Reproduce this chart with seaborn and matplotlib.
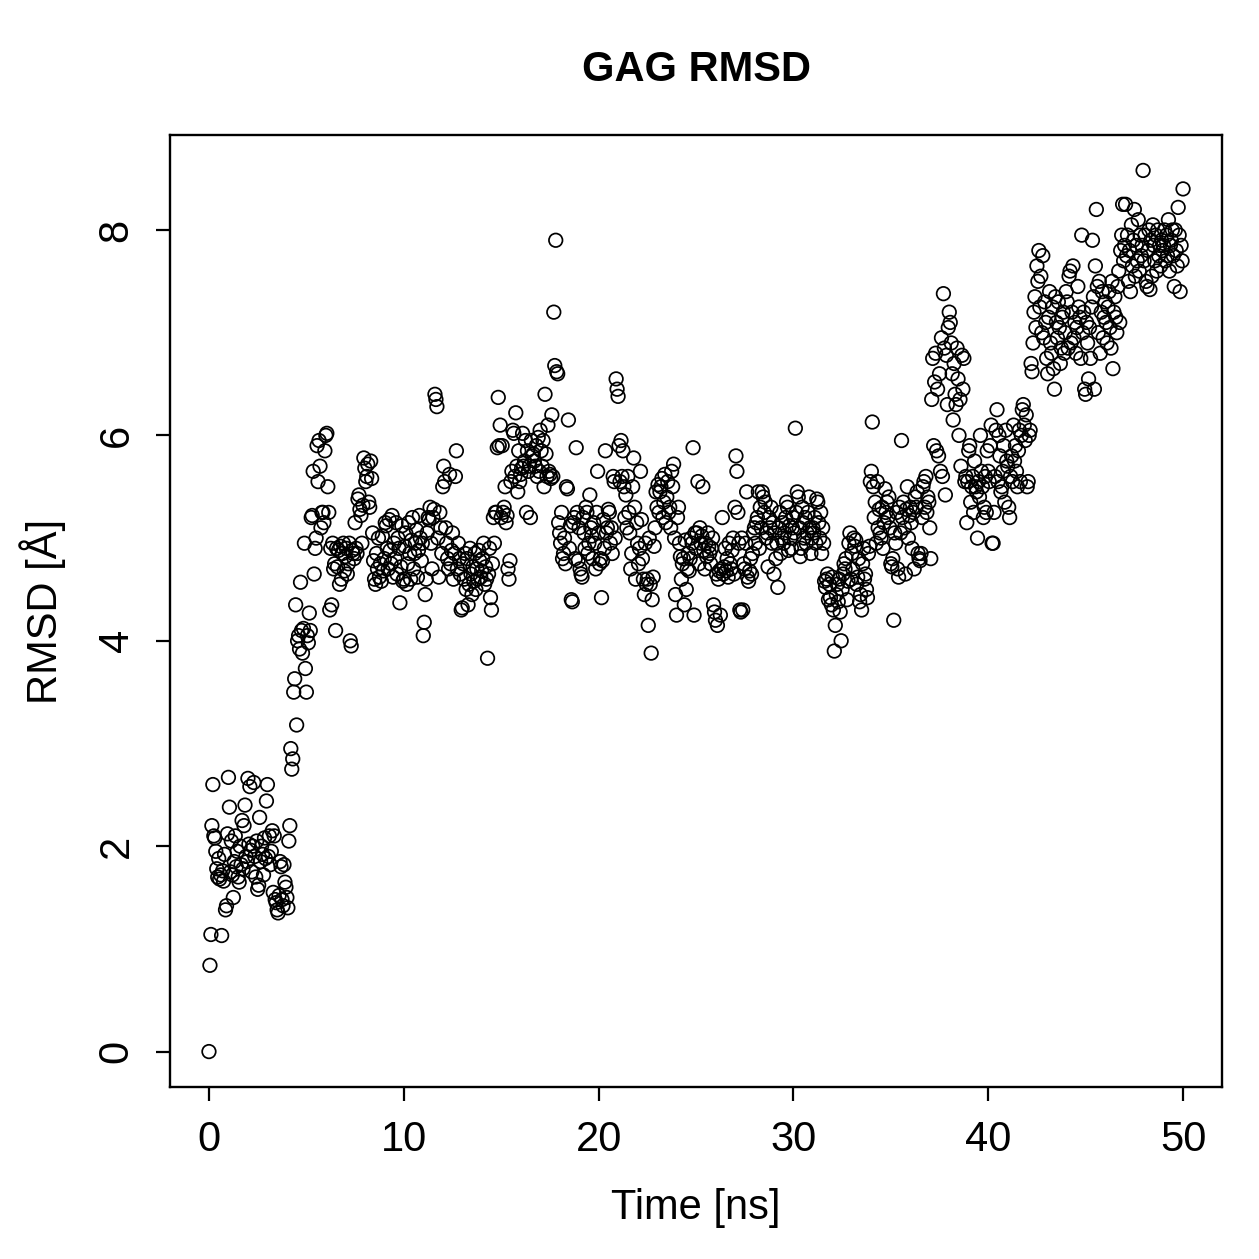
import numpy as np
import pandas as pd
import matplotlib
matplotlib.use("Agg")
import matplotlib.pyplot as plt
import seaborn as sns

# RMSD trace of the GAG, one frame every 0.05 ns (rows = 1 ns each)
FRAME_STEP_NS = 0.05
rmsd_rows = [
    [0.00, 0.84, 1.14, 2.20, 2.60, 2.10, 2.08, 1.95, 1.78, 1.70, 1.88, 1.68, 1.72, 1.13, 1.76, 1.66, 1.92, 1.38, 1.42, 2.12],
    [2.67, 2.38, 1.75, 2.05, 1.72, 1.50, 1.85, 2.10, 1.80, 1.95, 1.70, 1.65, 2.00, 1.82, 2.25, 1.78, 2.20, 2.40, 1.90, 1.85],
    [2.66, 2.02, 2.58, 1.96, 1.75, 2.00, 2.62, 1.90, 1.70, 2.05, 1.58, 1.62, 2.28, 1.85, 2.00, 1.92, 1.72, 2.08, 1.88, 2.44],
    [2.60, 1.90, 2.10, 1.82, 1.95, 2.15, 1.55, 2.10, 1.48, 1.45, 1.38, 1.35, 1.52, 1.85, 1.80, 1.48, 1.42, 1.82, 1.65, 1.60],
    [1.50, 1.40, 2.05, 2.20, 2.95, 2.75, 2.85, 3.50, 3.63, 4.35, 3.18, 4.00, 4.05, 3.92, 4.57, 4.10, 3.88, 4.12, 4.95, 3.73],
    [3.50, 4.05, 3.98, 4.27, 4.10, 5.20, 5.22, 5.65, 4.65, 4.90, 5.00, 5.90, 5.55, 5.95, 5.70, 5.10, 5.25, 5.25, 5.15, 5.85],
    [6.00, 6.02, 5.50, 5.25, 4.30, 4.90, 4.35, 4.95, 4.70, 4.75, 4.10, 4.90, 4.72, 4.88, 4.55, 4.92, 4.60, 4.85, 4.95, 4.68],
    [4.82, 4.90, 4.65, 4.75, 4.95, 4.00, 3.95, 4.88, 4.85, 4.80, 5.15, 4.90, 4.85, 5.38, 5.42, 5.28, 5.22, 4.95, 5.32, 5.78],
    [5.68, 5.55, 5.60, 5.72, 5.35, 5.30, 5.75, 5.58, 5.05, 4.78, 4.60, 4.55, 4.85, 4.70, 5.00, 4.62, 4.75, 4.58, 5.02, 4.68],
    [4.80, 5.15, 5.12, 4.90, 4.70, 5.18, 4.88, 4.75, 5.22, 4.62, 4.95, 4.80, 5.15, 4.65, 5.00, 4.90, 4.37, 4.72, 5.12, 4.58],
    [4.60, 4.92, 5.05, 4.55, 4.75, 5.15, 4.85, 4.60, 4.98, 5.20, 4.70, 4.85, 4.95, 5.08, 4.62, 4.88, 5.22, 5.00, 4.78, 4.95],
    [4.05, 4.18, 4.45, 4.60, 5.05, 5.20, 5.18, 5.30, 4.95, 4.70, 5.20, 5.28, 6.40, 6.35, 6.28, 5.00, 4.62, 5.25, 5.10, 4.85],
    [5.50, 5.70, 5.55, 5.10, 4.95, 4.80, 4.70, 5.62, 4.75, 4.88, 5.05, 4.60, 4.85, 5.60, 5.85, 4.70, 4.95, 4.80, 4.65, 4.30],
    [4.32, 4.75, 4.60, 4.85, 4.50, 4.80, 4.35, 4.55, 4.90, 4.65, 4.45, 4.72, 4.58, 4.85, 4.50, 4.70, 4.60, 4.88, 4.78, 4.62],
    [4.68, 4.80, 4.95, 4.55, 4.72, 4.60, 3.83, 4.65, 4.90, 4.42, 4.30, 4.75, 5.20, 4.95, 5.25, 5.25, 5.88, 6.37, 5.90, 6.10],
    [5.20, 5.90, 5.25, 5.30, 5.50, 5.15, 5.22, 4.70, 4.60, 4.78, 5.55, 5.65, 6.05, 6.02, 5.60, 6.22, 5.70, 5.45, 5.85, 5.55],
    [5.62, 5.68, 6.02, 5.70, 5.75, 5.95, 5.25, 5.85, 5.65, 5.70, 5.20, 5.95, 5.80, 5.82, 5.75, 5.70, 5.90, 5.60, 5.98, 5.65],
    [6.05, 5.85, 5.70, 5.95, 5.50, 6.40, 5.82, 5.60, 6.10, 5.65, 5.62, 5.58, 6.20, 5.60, 7.20, 6.68, 7.90, 6.62, 6.60, 5.15],
    [5.05, 4.95, 5.25, 4.80, 4.85, 5.00, 4.75, 5.50, 5.48, 6.15, 4.90, 5.12, 4.40, 4.38, 5.15, 5.20, 4.80, 5.88, 5.25, 4.78],
    [5.10, 4.70, 4.65, 4.62, 5.20, 5.05, 4.90, 5.30, 5.25, 4.85, 4.95, 5.42, 5.10, 5.02, 4.80, 5.15, 4.95, 4.70, 5.25, 5.65],
    [5.05, 4.75, 4.80, 4.42, 4.78, 5.18, 4.90, 5.85, 5.05, 5.10, 5.28, 5.25, 4.95, 5.10, 4.85, 5.60, 5.55, 5.00, 6.55, 6.45],
    [6.38, 5.90, 5.55, 5.95, 5.60, 5.85, 5.50, 5.20, 5.42, 5.10, 5.60, 5.25, 5.05, 4.70, 4.85, 5.50, 5.78, 5.30, 4.60, 5.15],
    [4.95, 4.75, 4.90, 5.65, 5.18, 4.80, 4.60, 4.45, 4.95, 4.55, 4.60, 4.15, 5.00, 4.55, 3.88, 4.40, 4.62, 4.92, 5.10, 5.45],
    [5.30, 5.52, 5.25, 5.45, 5.50, 5.58, 5.20, 5.35, 5.62, 5.15, 5.40, 5.55, 5.25, 5.30, 5.10, 5.65, 5.50, 5.72, 5.00, 4.45],
    [4.25, 5.20, 5.30, 4.95, 4.82, 4.60, 4.75, 4.80, 4.35, 4.98, 4.50, 4.70, 4.85, 4.68, 4.80, 5.00, 4.95, 5.88, 4.25, 5.05],
    [4.90, 5.05, 5.55, 4.75, 5.10, 4.95, 5.02, 5.50, 4.88, 4.70, 4.95, 4.82, 5.05, 4.92, 4.85, 4.75, 4.90, 5.00, 4.35, 4.28],
    [4.20, 4.65, 4.15, 4.60, 4.68, 4.25, 4.70, 5.20, 4.65, 4.72, 4.90, 4.68, 4.80, 4.62, 4.95, 4.75, 4.70, 4.88, 5.00, 4.65],
    [5.30, 5.80, 5.65, 5.25, 4.95, 4.30, 4.28, 5.00, 4.30, 4.75, 4.70, 4.95, 5.45, 4.62, 4.58, 4.68, 4.80, 4.65, 4.85, 5.05],
    [5.10, 4.95, 5.15, 5.20, 5.45, 4.90, 5.30, 5.10, 5.45, 5.40, 5.25, 5.35, 5.00, 5.05, 4.72, 5.20, 5.10, 5.30, 4.95, 5.15],
    [4.65, 5.05, 4.80, 4.95, 4.52, 5.10, 5.25, 4.85, 5.00, 5.15, 4.95, 5.05, 5.20, 5.35, 5.30, 4.88, 5.12, 5.00, 4.90, 5.10],
    [5.20, 5.05, 6.07, 5.25, 5.45, 5.40, 5.10, 4.82, 4.90, 5.30, 5.15, 5.00, 5.20, 4.95, 5.05, 5.25, 5.40, 5.10, 4.85, 5.00],
    [5.10, 5.05, 5.20, 4.95, 5.38, 5.35, 5.15, 5.00, 5.25, 4.85, 5.10, 4.95, 4.58, 4.52, 4.60, 4.65, 4.40, 4.55, 4.42, 4.35],
    [4.62, 4.30, 3.90, 4.15, 4.45, 4.55, 4.38, 4.60, 4.28, 4.00, 4.50, 4.65, 4.75, 4.70, 4.80, 4.40, 4.58, 4.95, 5.05, 4.60],
    [4.85, 4.70, 5.00, 4.92, 4.98, 4.55, 4.62, 4.80, 4.38, 4.45, 4.30, 4.75, 4.90, 4.60, 4.65, 4.50, 4.42, 4.85, 4.92, 5.55],
    [5.65, 6.13, 5.50, 5.20, 5.35, 4.95, 5.55, 5.10, 5.28, 5.05, 5.00, 5.30, 4.90, 5.15, 5.48, 5.25, 5.35, 5.20, 5.40, 5.10],
    [4.75, 4.72, 4.80, 4.20, 5.05, 4.95, 5.25, 4.70, 4.62, 5.30, 5.05, 5.95, 5.20, 5.35, 5.10, 4.65, 5.28, 5.50, 5.00, 5.22],
    [5.30, 5.15, 4.90, 5.25, 4.70, 5.40, 5.30, 5.45, 4.85, 4.80, 4.78, 4.85, 5.20, 5.50, 5.55, 5.30, 5.60, 5.25, 5.40, 5.35],
    [5.10, 4.80, 6.35, 6.75, 5.90, 6.52, 6.80, 5.85, 6.45, 5.80, 6.60, 5.65, 6.95, 5.60, 7.38, 6.85, 5.42, 6.78, 6.30, 7.05],
    [7.20, 7.10, 6.90, 6.60, 6.15, 6.70, 6.40, 6.30, 6.85, 6.55, 6.00, 6.35, 5.70, 6.78, 6.45, 6.75, 5.55, 5.60, 5.15, 5.55],
    [5.85, 5.90, 5.35, 5.50, 5.60, 5.25, 5.75, 5.50, 5.45, 5.00, 5.55, 5.40, 6.00, 5.65, 5.50, 5.20, 5.30, 5.60, 5.25, 5.85],
    [5.65, 5.55, 5.90, 6.10, 4.95, 4.95, 5.25, 5.60, 6.05, 6.25, 5.55, 6.00, 5.80, 5.45, 5.50, 5.65, 5.90, 5.35, 6.05, 5.75],
    [5.70, 5.30, 5.20, 5.60, 5.80, 5.55, 6.10, 5.75, 5.90, 5.65, 5.50, 5.85, 6.05, 5.55, 6.00, 6.25, 6.30, 6.10, 5.95, 6.20],
    [5.50, 5.55, 6.00, 6.05, 6.70, 6.62, 6.90, 7.20, 7.35, 7.05, 7.65, 7.50, 7.80, 7.25, 7.55, 7.00, 7.75, 6.95, 7.30, 7.10],
    [6.75, 6.60, 7.15, 7.40, 6.90, 6.80, 7.25, 6.65, 6.45, 7.35, 7.10, 6.95, 7.30, 7.05, 6.70, 6.85, 7.15, 7.20, 6.80, 7.00],
    [7.40, 7.30, 6.85, 7.55, 7.60, 6.90, 7.20, 7.65, 6.95, 7.10, 6.80, 7.05, 7.45, 7.25, 7.15, 6.75, 7.95, 7.00, 7.20, 6.45],
    [6.40, 7.10, 6.90, 6.55, 7.05, 6.75, 7.25, 7.90, 7.35, 6.45, 7.65, 8.20, 7.45, 7.00, 7.50, 6.80, 7.20, 7.40, 6.95, 7.15],
    [7.30, 7.10, 6.90, 7.25, 7.40, 7.05, 6.85, 7.50, 6.65, 7.20, 7.35, 7.15, 7.00, 7.45, 7.60, 7.10, 7.80, 7.95, 8.25, 7.70],
    [7.85, 8.25, 7.75, 7.95, 7.50, 7.80, 7.40, 8.05, 7.65, 7.90, 8.20, 7.55, 7.85, 7.70, 8.10, 7.60, 7.95, 7.75, 7.85, 8.58],
    [7.70, 7.95, 7.50, 7.45, 7.80, 8.00, 7.42, 7.90, 7.55, 8.05, 7.85, 7.70, 7.95, 7.60, 8.00, 7.75, 7.85, 7.65, 7.90, 7.80],
    [7.85, 8.00, 7.70, 7.95, 7.75, 8.10, 7.60, 7.85, 7.90, 8.00, 7.75, 7.45, 8.00, 7.80, 7.65, 8.22, 7.95, 7.40, 7.85, 7.70],
    [8.40],
]

x_ticks = [0, 10, 20, 30, 40, 50]
y_ticks = [0, 2, 4, 6, 8]

rmsd = np.concatenate([np.array(r) for r in rmsd_rows])
time_ns = np.arange(len(rmsd)) * FRAME_STEP_NS
df = pd.DataFrame({"time": time_ns, "rmsd": rmsd})

sns.set_style("ticks")
plt.rcParams['font.family'] = ['Liberation Sans', 'DejaVu Sans']
plt.rcParams['text.color'] = 'black'
plt.rcParams['axes.labelcolor'] = 'black'
plt.rcParams['xtick.color'] = 'black'
plt.rcParams['ytick.color'] = 'black'

fig = plt.figure(figsize=(12.59, 12.59), dpi=100)
ax = fig.add_axes([170 / 1259, 1 - 1087 / 1259, (1222 - 170) / 1259, (1087 - 135) / 1259])

sns.scatterplot(data=df, x="time", y="rmsd", ax=ax, color="black",
                facecolors="none", edgecolors="black", linewidth=1.25, s=95, marker="o")

ax.set_xlim(-2, 52)
ax.set_ylim(-0.345, 8.925)
ax.set_xticks(x_ticks)
ax.set_yticks(y_ticks)
ax.set_xticklabels([str(v) for v in x_ticks], fontsize=30)
ax.set_yticklabels([str(v) for v in y_ticks], fontsize=30, rotation=90, va="center")
ax.tick_params(axis="both", length=10, width=1.6, direction="out", color="black",
               labelcolor="black")
ax.tick_params(axis="x", pad=14)
ax.tick_params(axis="y", pad=14)
for sp in ax.spines.values():
    sp.set_visible(True)
    sp.set_linewidth(1.7)
    sp.set_color("black")

ax.set_xlabel("Time [ns]", fontsize=30, labelpad=20, color="black")
ax.set_ylabel("RMSD [Å]", fontsize=30, labelpad=22, color="black")
fig.text(696 / 1259, 1 - 70 / 1259, "GAG RMSD", ha="center", va="center",
         fontsize=30, fontweight="bold", color="black")

fig.savefig("out.png", dpi=100, facecolor="white")
